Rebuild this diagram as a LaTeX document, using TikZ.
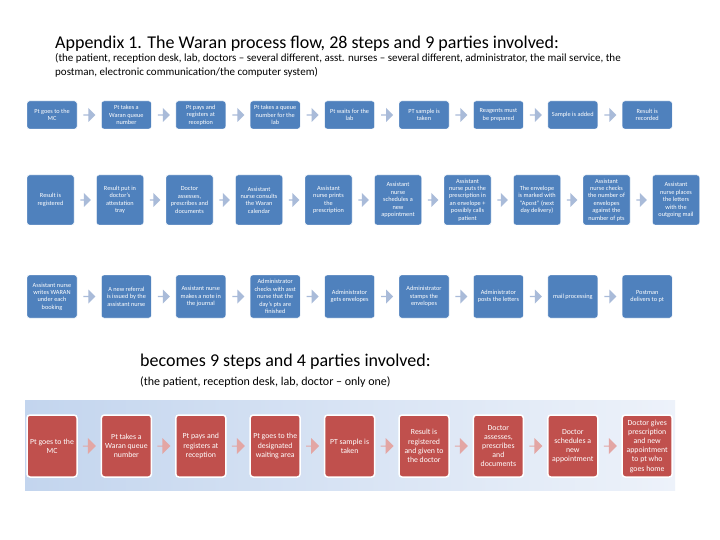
\documentclass[tikz,border=0pt]{standalone}
\usepackage{fontspec}
\setmainfont{Carlito}
\usetikzlibrary{shapes.arrows,calc}
\definecolor{boxblue}{HTML}{4F81BD}
\definecolor{arrblue}{HTML}{A9BBD9}
\definecolor{boxred}{HTML}{C0504D}
\definecolor{arrred}{HTML}{E3A6A4}
\definecolor{bandA}{HTML}{C3D5EE}
\definecolor{bandB}{HTML}{EDF2FA}
\begin{document}
\begin{tikzpicture}[x=1pt,y=-1pt,
  bbox/.style={fill=boxblue,draw=white,line width=0.4pt,rounded corners=2.5pt,text=white,align=center,inner sep=0pt,font=\fontsize{6.3}{7.4}\selectfont},
  rowa/.style={bbox,minimum width=50pt,minimum height=28pt},
  rowb/.style={bbox,minimum width=47pt,minimum height=50pt},
  rowc/.style={bbox,minimum width=50pt,minimum height=43pt},
  rbox/.style={fill=boxred,draw=white,line width=1.5pt,rounded corners=3pt,text=white,align=center,inner sep=0pt,minimum width=50pt,minimum height=62pt,font=\fontsize{7.8}{9.2}\selectfont},
  barrow/.style={single arrow,fill=arrblue,draw=none,inner sep=0pt,minimum height=12pt,minimum width=14pt,single arrow head extend=2.5pt},
  barrowb/.style={barrow,minimum height=10.5pt},
  rarrow/.style={single arrow,fill=arrred,draw=none,inner sep=0pt,minimum height=13pt,minimum width=16pt,single arrow head extend=3pt}
]
\useasboundingbox (0,0) rectangle (720,540);
\fill[white] (0,0) rectangle (720,540);

% titles
\node[anchor=base west,inner sep=0pt,font=\fontsize{18}{21}\selectfont] (t1) at (55,49) {Appendix 1. The Waran process flow, 28 steps and 9 parties involved:};
\node[anchor=base west,inner sep=0pt,align=left,font=\fontsize{11}{14}\selectfont] (t2) at (55,62) {(the patient, reception desk, lab, doctors -- several different, asst. nurses -- several different, administrator, the mail service, the};
\node[anchor=base west,inner sep=0pt,align=left,font=\fontsize{11}{14}\selectfont] (t2b) at (55,76) {postman, electronic communication/the computer system)};

% row 1
\node[rowa] (a1) at (52,115) {Pt goes to the\\MC};
\node[rowa] (a2) at (126.4,115) {Pt takes a\\Waran queue\\number};
\node[rowa] (a3) at (200.8,115) {Pt pays and\\registers at\\reception};
\node[rowa] (a4) at (275.2,115) {Pt takes a queue\\number for the\\lab};
\node[rowa] (a5) at (349.6,115) {Pt waits for the\\lab};
\node[rowa] (a6) at (424,115) {PT sample is\\taken};
\node[rowa] (a7) at (498.4,115) {Reagents must\\be prepared};
\node[rowa] (a8) at (572.8,115) {Sample is added};
\node[rowa] (a9) at (647.2,115) {Result is\\recorded};

% row 2
\node[rowb] (b1) at (50.5,200) {Result is\\registered};
\node[rowb] (b2) at (120,200) {Result put in\\doctor's\\attestation\\tray};
\node[rowb] (b3) at (189.5,200) {Doctor\\assesses,\\prescribes and\\documents};
\node[rowb] (b4) at (259,200) {Assistant\\nurse consults\\the Waran\\calendar};
\node[rowb] (b5) at (328.5,200) {Assistant\\nurse prints\\the\\prescription};
\node[rowb] (b6) at (398,200) {Assistant\\nurse\\schedules a\\new\\appointment};
\node[rowb] (b7) at (467.5,200) {Assistant\\nurse puts the\\prescription in\\an envelope +\\possibly calls\\patient};
\node[rowb] (b8) at (537,200) {The envelope\\is marked with\\``Apost'' (next\\day delivery)};
\node[rowb] (b9) at (606.5,200) {Assistant\\nurse checks\\the number of\\envelopes\\against the\\number of pts};
\node[rowb] (b10) at (676,200) {Assistant\\nurse places\\the letters\\with the\\outgoing mail};

% row 3
\node[rowc] (c1) at (52,296.5) {Assistant nurse\\writes WARAN\\under each\\booking};
\node[rowc] (c2) at (126.4,296.5) {A new referral\\is issued by the\\assistant nurse};
\node[rowc] (c3) at (200.8,296.5) {Assistant nurse\\makes a note in\\the journal};
\node[rowc] (c4) at (275.2,296.5) {Administrator\\checks with asst\\nurse that the\\day's pts are\\finished};
\node[rowc] (c5) at (349.6,296.5) {Administrator\\gets envelopes};
\node[rowc] (c6) at (424,296.5) {Administrator\\stamps the\\envelopes};
\node[rowc] (c7) at (498.4,296.5) {Administrator\\posts the letters};
\node[rowc] (c8) at (572.8,296.5) {mail processing};
\node[rowc] (c9) at (647.2,296.5) {Postman\\delivers to pt};

\foreach \i [evaluate=\i as \j using int(\i+1)] in {1,...,8} {
  \node[barrow] at ($(a\i.east)!0.5!(a\j.west)$) {};
  \node[barrow] at ($(c\i.east)!0.5!(c\j.west)$) {};
}
\foreach \i [evaluate=\i as \j using int(\i+1)] in {1,...,9} {
  \node[barrowb] at ($(b\i.east)!0.5!(b\j.west)$) {};
}

% second part
\node[anchor=west,inner sep=0pt,font=\fontsize{18}{21}\selectfont] (t3) at (140,362) {becomes 9 steps and 4 parties involved:};
\node[anchor=west,inner sep=0pt,font=\fontsize{12}{14}\selectfont] (t4) at (140,382) {(the patient, reception desk, lab, doctor -- only one)};

\shade[left color=bandA,right color=bandB] (25,400) rectangle (675,490);

\node[rbox] (d1) at (52,446) {Pt goes to the\\MC};
\node[rbox] (d2) at (126.4,446) {Pt takes a\\Waran queue\\number};
\node[rbox] (d3) at (200.8,446) {Pt pays and\\registers at\\reception};
\node[rbox] (d4) at (275.2,446) {Pt goes to the\\designated\\waiting area};
\node[rbox] (d5) at (349.6,446) {PT sample is\\taken};
\node[rbox] (d6) at (424,446) {Result is\\registered\\and given to\\the doctor};
\node[rbox] (d7) at (498.4,446) {Doctor\\assesses,\\prescribes\\and\\documents};
\node[rbox] (d8) at (572.8,446) {Doctor\\schedules a\\new\\appointment};
\node[rbox] (d9) at (647.2,446) {Doctor gives\\prescription\\and new\\appointment\\to pt who\\goes home};

\foreach \i [evaluate=\i as \j using int(\i+1)] in {1,...,8} {
  \node[rarrow] at ($(d\i.east)!0.5!(d\j.west)$) {};
}
\end{tikzpicture}
\end{document}
